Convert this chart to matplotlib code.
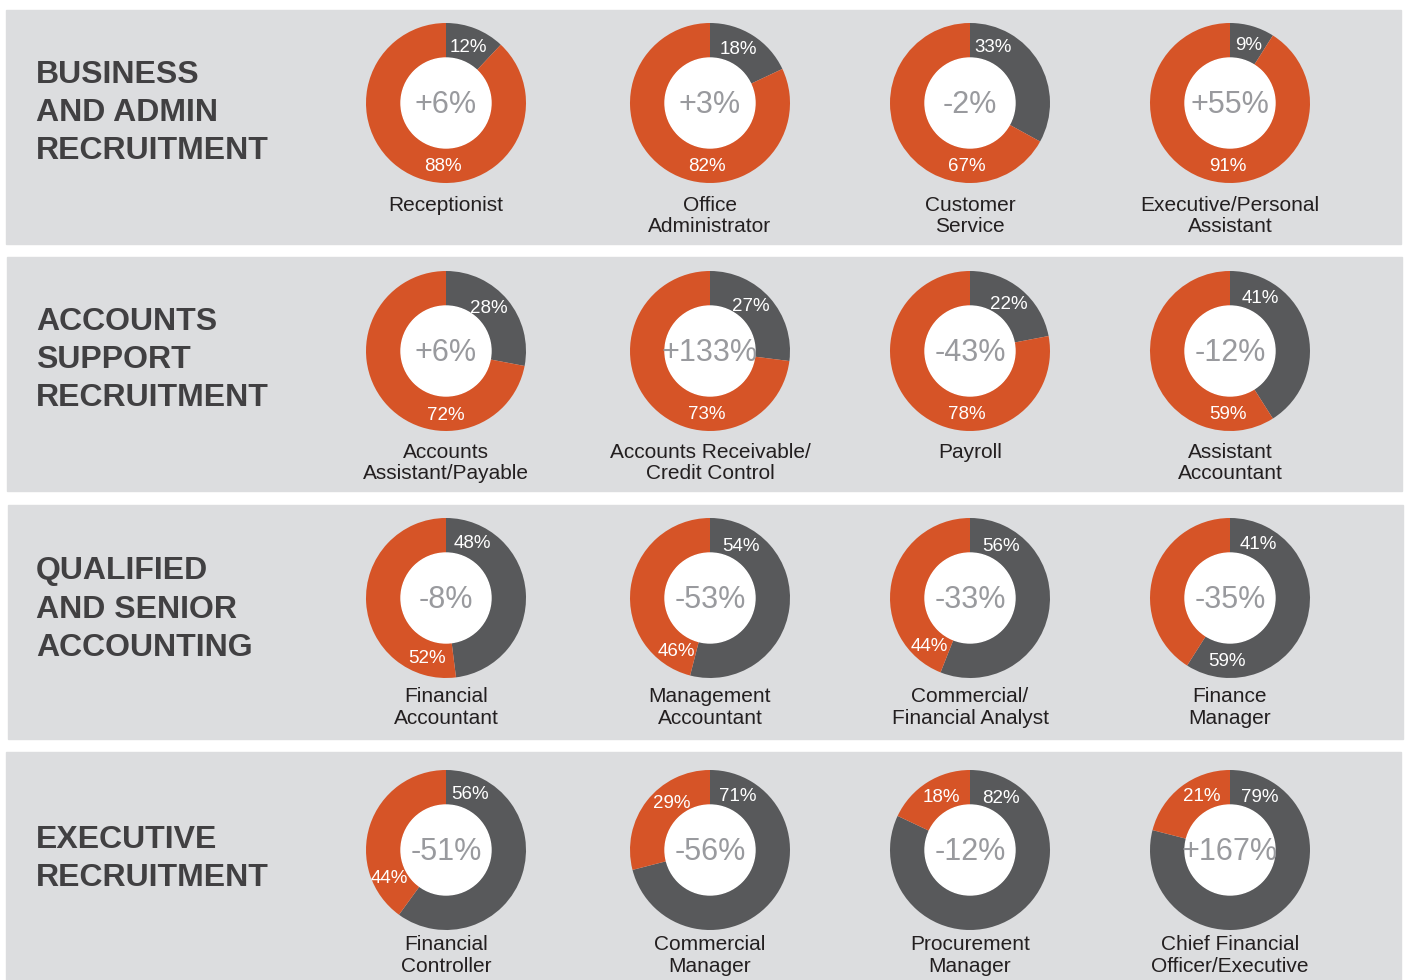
import matplotlib
matplotlib.use("Agg")
import matplotlib.pyplot as plt
from matplotlib.patches import Rectangle, Circle
import numpy as np

# ---- data ----
sections = [
    ["BUSINESS", "AND ADMIN", "RECRUITMENT"],
    ["ACCOUNTS", "SUPPORT", "RECRUITMENT"],
    ["QUALIFIED", "AND SENIOR", "ACCOUNTING"],
    ["EXECUTIVE", "RECRUITMENT"],
]
roles = [
    ["Receptionist", "Office\nAdministrator", "Customer\nService", "Executive/Personal\nAssistant"],
    ["Accounts\nAssistant/Payable", "Accounts Receivable/\nCredit Control", "Payroll", "Assistant\nAccountant"],
    ["Financial\nAccountant", "Management\nAccountant", "Commercial/\nFinancial Analyst", "Finance\nManager"],
    ["Financial\nController", "Commercial\nManager", "Procurement\nManager", "Chief Financial\nOfficer/Executive"],
]
# share of the dark (grey) arc as drawn
dark_arc = [
    [12, 18, 33, 9],
    [28, 27, 22, 41],
    [48, 54, 56, 59],
    [60, 71, 82, 79],
]
# printed labels
dark_lbl = [
    ["12%", "18%", "33%", "9%"],
    ["28%", "27%", "22%", "41%"],
    ["48%", "54%", "56%", "41%"],
    ["56%", "71%", "82%", "79%"],
]
orange_lbl = [
    ["88%", "82%", "67%", "91%"],
    ["72%", "73%", "78%", "59%"],
    ["52%", "46%", "44%", "59%"],
    ["44%", "29%", "18%", "21%"],
]
change = [
    ["+6%", "+3%", "-2%", "+55%"],
    ["+6%", "+133%", "-43%", "-12%"],
    ["-8%", "-53%", "-33%", "-35%"],
    ["-51%", "-56%", "-12%", "+167%"],
]

# ---- layout (pixels, measured from top) ----
W, H = 1405, 980
panels = [(6, 10, 1401, 244), (7, 257, 1402, 491), (8, 505, 1403, 739), (6, 752, 1401, 990)]
col_x = [446, 710, 970, 1230]
row_y = [103, 351, 598, 850]
title_y = [72, 319, 568, 837]
name_y = [204, 451, 695, 943]
R_OUT, R_IN = 80, 45
R_LBL = 62
dark_ang = [[21, 27, 22, 17], [44, 41, 39, 29], [25, 30, 30, 27], [23, 27, 30, 29]]
orange_ang = [[183, 183, 183, 182], [180, 183, 183, 182], [198, 213, 221, 183], [245, 322, 332, 333]]

ORANGE = "#D65427"
DARK = "#58595B"
BG = "#DCDDDF"
TITLE = "#414042"
CENTER = "#999A9E"
NAME = "#231F20"
FONT = "Liberation Sans"

fig = plt.figure(figsize=(W / 100, H / 100), dpi=100)
ax = fig.add_axes([0, 0, 1, 1])


def Y(py):
    return H - py


for r in range(4):
    x0, t, x1, b = panels[r]
    ax.add_patch(Rectangle((x0, Y(b)), x1 - x0, b - t, color=BG, zorder=0))

    for i, line in enumerate(sections[r]):
        ax.text(36, Y(title_y[r] + 38 * i + 11.5), line, fontsize=23, fontweight="bold",
                family=FONT, color=TITLE, ha="left", va="baseline")

    for c in range(4):
        cx, cy = col_x[c], row_y[r]
        d = dark_arc[r][c]
        ax.pie([d, 100 - d], colors=[DARK, ORANGE], startangle=90, counterclock=False,
               center=(cx, Y(cy)), radius=R_OUT,
               wedgeprops=dict(width=R_OUT - R_IN, edgecolor="none", linewidth=0))
        ax.add_patch(Circle((cx, Y(cy)), R_IN, color="white", zorder=3))

        ax.text(cx, Y(cy + 10), change[r][c], fontsize=22, family=FONT, color=CENTER,
                ha="center", va="baseline", zorder=4)

        a = np.radians(dark_ang[r][c])
        ax.text(cx + R_LBL * np.sin(a), Y(cy - R_LBL * np.cos(a) + 6.5), dark_lbl[r][c],
                fontsize=13.5, family=FONT, color="white", ha="center", va="baseline", zorder=5)
        a = np.radians(orange_ang[r][c])
        ax.text(cx + R_LBL * np.sin(a), Y(cy - R_LBL * np.cos(a) + 6.5), orange_lbl[r][c],
                fontsize=13.5, family=FONT, color="white", ha="center", va="baseline", zorder=5)

        for j, line in enumerate(roles[r][c].split("\n")):
            ax.text(cx, Y(name_y[r] + 21 * j + 7.5), line, fontsize=15, family=FONT,
                    color=NAME, ha="center", va="baseline")

ax.set_xlim(0, W)
ax.set_ylim(0, H)
ax.set_aspect("equal")
ax.axis("off")
fig.savefig("out.png", dpi=100, facecolor="white")
